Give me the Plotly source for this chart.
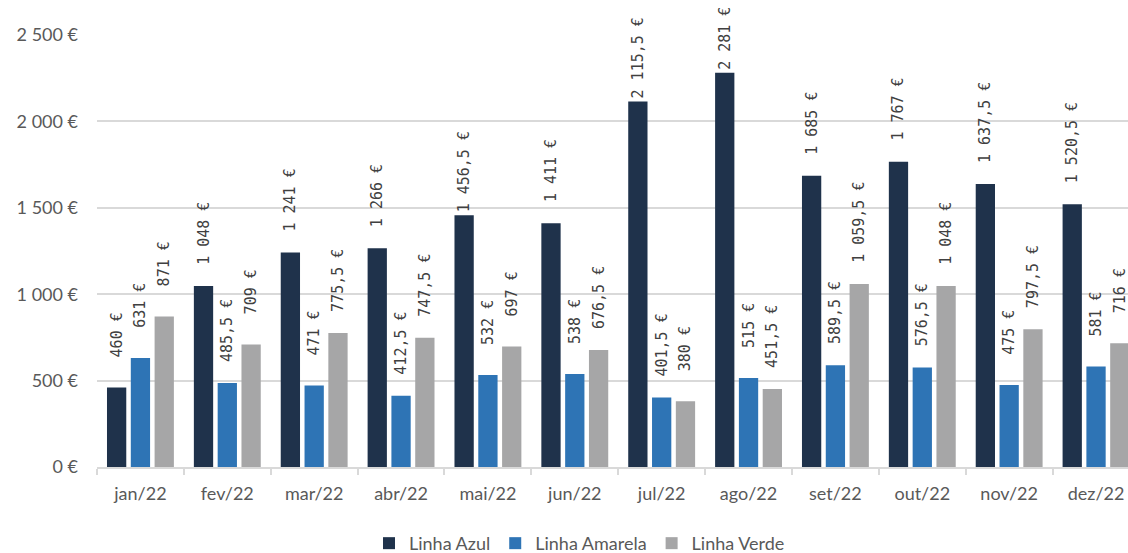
import plotly.graph_objects as go

# Monthly values per line (EUR)
months = ["jan/22", "fev/22", "mar/22", "abr/22", "mai/22", "jun/22",
          "jul/22", "ago/22", "set/22", "out/22", "nov/22", "dez/22"]
linha_azul = [460, 1048, 1241, 1266, 1456.5, 1411, 2115.5, 2281, 1685, 1767, 1637.5, 1520.5]
linha_amarela = [631, 485.5, 471, 412.5, 532, 538, 401.5, 515, 589.5, 576.5, 475, 581]
linha_verde = [871, 709, 775.5, 747.5, 697, 676.5, 380, 451.5, 1059.5, 1048, 797.5, 716]

y_tick_vals = [0, 500, 1000, 1500, 2000, 2500]
y_tick_text = ["0 €", "500 €", "1 000 €", "1 500 €", "2 000 €", "2 500 €"]

series = [
    ("Linha Azul", linha_azul, "#1F324B"),
    ("Linha Amarela", linha_amarela, "#2E74B5"),
    ("Linha Verde", linha_verde, "#A6A6A7"),
]

# Labels that sit close to their bar (no extra spacing) because of the top edge
tight_labels = {("Linha Azul", 4), ("Linha Azul", 6), ("Linha Azul", 7)}


def eur(v):
    whole = int(v)
    s = f"{whole:,}".replace(",", " ")
    if v != whole:
        s += "," + str(v).split(".")[1]
    return s + " €"


def label(name, i, v):
    txt = eur(v)
    if (name, i) in tight_labels:
        pad = 0
    else:
        pad = 3 if len(txt) <= 5 else 2
    return "\u00a0" * pad + txt


fig = go.Figure()
for name, vals, color in series:
    fig.add_trace(go.Bar(
        name=name,
        x=months,
        y=vals,
        marker=dict(color=color, line=dict(width=0)),
        text=[label(name, i, v) for i, v in enumerate(vals)],
        textposition="outside",
        textangle=-90,
        constraintext="none",
        cliponaxis=False,
        textfont=dict(family="DejaVu Sans Mono", size=15, color="#404040"),
        hoverinfo="skip",
    ))

fig.update_layout(
    width=1128,
    height=553,
    margin=dict(l=97, r=0, t=35, b=86, autoexpand=False),
    paper_bgcolor="white",
    plot_bgcolor="white",
    barmode="group",
    bargap=0.178,
    bargroupgap=0.19,
    font=dict(family="Lato", color="#595959"),
    legend=dict(
        orientation="h",
        x=0.468, xanchor="center",
        y=-0.177, yanchor="middle",
        font=dict(family="Lato", size=18, color="#595959"),
        itemwidth=30,
        traceorder="normal",
    ),
    showlegend=True,
)

fig.update_xaxes(
    range=[-0.5, 11.368],
    showgrid=False,
    showline=True,
    linecolor="#D9D9D9",
    linewidth=1.5,
    ticks="outside",
    tickson="boundaries",
    ticklen=6,
    tickcolor="#D9D9D9",
    tickwidth=1.5,
    tickfont=dict(family="Lato", size=18, color="#595959"),
    ticklabelstandoff=10,
)

fig.update_yaxes(
    range=[0, 2500],
    tickvals=y_tick_vals,
    ticktext=y_tick_text,
    showgrid=True,
    gridcolor="#D9D9D9",
    gridwidth=1.5,
    zeroline=False,
    showline=False,
    ticks="",
    tickfont=dict(family="Lato", size=18, color="#595959"),
    ticklabelstandoff=18,
)

fig.write_html("out.html")
